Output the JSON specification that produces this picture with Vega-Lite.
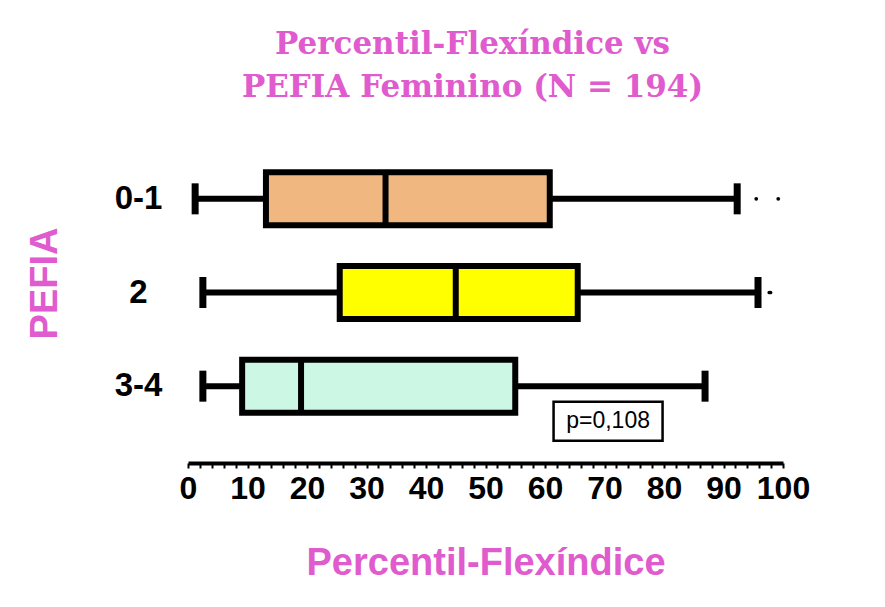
{
  "$schema": "https://vega.github.io/schema/vega-lite/v6.json",
  "autosize": {"type": "none"},
  "width": 595,
  "height": 281,
  "padding": {"left": 188, "top": 152, "right": 102, "bottom": 174},
  "background": "white",
  "config": {
    "view": {"stroke": null},
    "axisX": {
      "titleFont": "Liberation Sans",
      "titleFontSize": 38,
      "titleFontWeight": "bold",
      "titleColor": "#E05BCD",
      "titlePadding": 40,
      "offset": 30,
      "tickCount": 50,
      "labelFont": "Liberation Sans",
      "labelFontSize": 32,
      "labelFontWeight": "bold",
      "labelColor": "black",
      "labelPadding": 5,
      "labelFlush": false,
      "labelOverlap": false,
      "domainColor": "black",
      "domainWidth": 4,
      "tickColor": "black",
      "tickWidth": 2,
      "tickSize": 5,
      "grid": false
    }
  },
  "title": {
    "text": ["Percentil-Flexíndice vs", "PEFIA Feminino (N = 194)"],
    "font": "DejaVu Serif",
    "fontSize": 31,
    "fontWeight": "bold",
    "color": "#E05BCD",
    "lineHeight": 43,
    "anchor": "middle",
    "offset": 48,
    "dx": -13
  },
  "datasets": {
    "summary": [
      {"group": "0-1", "min": 1.2, "q1": 13.1, "median": 33.2, "q3": 60.8, "max": 92.3},
      {"group": "2", "min": 2.5, "q1": 25.5, "median": 45.0, "q3": 65.5, "max": 95.8},
      {"group": "3-4", "min": 2.5, "q1": 9.1, "median": 19.0, "q3": 55.0, "max": 86.9}
    ],
    "outliers": [
      {"group": "0-1", "value": 95.5},
      {"group": "0-1", "value": 99.2},
      {"group": "2", "value": 97.7},
      {"group": "2", "value": 97.9}
    ],
    "note": [
      {"group": "3-4", "value": 70.6, "label": "p=0,108"}
    ]
  },
  "layer": [
    {
      "data": {"name": "summary"},
      "mark": {"type": "rule", "color": "black", "strokeWidth": 6, "opacity": 1},
      "encoding": {
        "y": {
          "field": "group", "type": "nominal",
          "scale": {"domain": ["0-1", "2", "3-4"], "paddingInner": 0, "paddingOuter": 0},
          "axis": {
            "title": "PEFIA",
            "titleFont": "Liberation Sans",
            "titleFontSize": 38,
            "titleFontWeight": "bold",
            "titleColor": "#E05BCD",
            "titleAngle": -90,
            "titleX": -143,
            "titleY": 131,
            "titleAlign": "center",
            "titleBaseline": "middle",
            "domain": false,
            "ticks": false,
            "labelFont": "Liberation Sans",
            "labelFontSize": 33,
            "labelFontWeight": "bold",
            "labelColor": "black",
            "labelAlign": "center",
            "labelPadding": 50
          }
        },
        "x": {
          "field": "min", "type": "quantitative",
          "scale": {"domain": [0, 100], "nice": false, "zero": false},
          "axis": {
            "title": "Percentil-Flexíndice",
            "tickCount": 50,
            "labelExpr": "datum.value % 10 === 0 ? datum.label : ''"
          }
        },
        "x2": {"field": "max"}
      }
    },
    {
      "data": {"name": "summary"},
      "mark": {"type": "tick", "color": "black", "thickness": 7, "size": 31, "orient": "vertical", "opacity": 1},
      "encoding": {
        "y": {"field": "group", "type": "nominal"},
        "x": {"field": "min", "type": "quantitative"}
      }
    },
    {
      "data": {"name": "summary"},
      "mark": {"type": "tick", "color": "black", "thickness": 7, "size": 31, "orient": "vertical", "opacity": 1},
      "encoding": {
        "y": {"field": "group", "type": "nominal"},
        "x": {"field": "max", "type": "quantitative"}
      }
    },
    {
      "data": {"name": "summary"},
      "mark": {"type": "bar", "stroke": "black", "strokeWidth": 6, "size": 53, "opacity": 1},
      "encoding": {
        "y": {"field": "group", "type": "nominal"},
        "x": {"field": "q1", "type": "quantitative"},
        "x2": {"field": "q3"},
        "fill": {
          "field": "group", "type": "nominal",
          "scale": {"domain": ["0-1", "2", "3-4"], "range": ["#F0B880", "#FFFF00", "#CCF7E4"]},
          "legend": null
        }
      }
    },
    {
      "data": {"name": "summary"},
      "mark": {"type": "tick", "color": "black", "thickness": 6, "size": 53, "orient": "vertical", "opacity": 1},
      "encoding": {
        "y": {"field": "group", "type": "nominal"},
        "x": {"field": "median", "type": "quantitative"}
      }
    },
    {
      "data": {"name": "outliers"},
      "mark": {"type": "point", "filled": true, "color": "black", "size": 14, "opacity": 1},
      "encoding": {
        "y": {"field": "group", "type": "nominal"},
        "x": {"field": "value", "type": "quantitative"}
      }
    },
    {
      "data": {"name": "note"},
      "mark": {
        "type": "point",
        "shape": "M-1,-0.358L1,-0.358L1,0.358L-1,0.358Z",
        "size": 11881,
        "filled": false,
        "stroke": "black",
        "strokeWidth": 2.5,
        "opacity": 1,
        "yOffset": 35
      },
      "encoding": {
        "y": {"field": "group", "type": "nominal"},
        "x": {"field": "value", "type": "quantitative"}
      }
    },
    {
      "data": {"name": "note"},
      "mark": {
        "type": "text",
        "font": "Liberation Sans",
        "fontSize": 23,
        "color": "black",
        "align": "center",
        "baseline": "middle",
        "yOffset": 35
      },
      "encoding": {
        "y": {"field": "group", "type": "nominal"},
        "x": {"field": "value", "type": "quantitative"},
        "text": {"field": "label"}
      }
    }
  ]
}
